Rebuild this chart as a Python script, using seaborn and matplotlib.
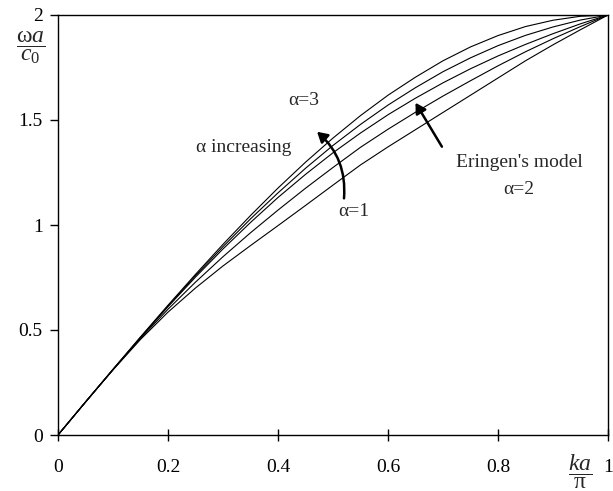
import numpy as np
import pandas as pd
import matplotlib
matplotlib.use("Agg")
import matplotlib.pyplot as plt
from matplotlib.patches import FancyArrowPatch
import seaborn as sns

# Normalised wavenumber ka/pi
ka_pi = [0.00, 0.05, 0.10, 0.15, 0.20, 0.25, 0.30, 0.35, 0.40, 0.45, 0.50,
         0.55, 0.60, 0.65, 0.70, 0.75, 0.80, 0.85, 0.90, 0.95, 1.00]

# Normalised frequency omega*a/c0 for each alpha
freq_a30 = [0, 0.157, 0.313, 0.467, 0.618, 0.765, 0.908, 1.045, 1.176, 1.299, 1.414,
            1.521, 1.618, 1.704, 1.782, 1.848, 1.902, 1.945, 1.975, 1.994, 2.0]
freq_a25 = [0, 0.157, 0.312, 0.465, 0.614, 0.759, 0.897, 1.029, 1.153, 1.270, 1.379,
            1.479, 1.571, 1.654, 1.730, 1.796, 1.854, 1.903, 1.943, 1.976, 2.0]
freq_a20 = [0, 0.157, 0.312, 0.464, 0.611, 0.752, 0.886, 1.012, 1.131, 1.241, 1.344,
            1.438, 1.525, 1.604, 1.677, 1.744, 1.805, 1.860, 1.911, 1.958, 2.0]
freq_a15 = [0, 0.157, 0.311, 0.460, 0.599, 0.728, 0.849, 0.963, 1.071, 1.175, 1.274,
            1.370, 1.456, 1.537, 1.614, 1.687, 1.758, 1.825, 1.887, 1.945, 2.0]
freq_a10 = [0, 0.157, 0.310, 0.455, 0.585, 0.700, 0.805, 0.902, 0.997, 1.093, 1.190,
            1.286, 1.372, 1.454, 1.536, 1.618, 1.700, 1.782, 1.858, 1.930, 2.0]

alphas = ["3", "2.5", "2", "1.5", "1"]
series = [freq_a30, freq_a25, freq_a20, freq_a15, freq_a10]

x_ticks = [0, 0.2, 0.4, 0.6, 0.8, 1]
x_tick_labels = ["0", "0.2", "0.4", "0.6", "0.8", "1"]
y_ticks = [0, 0.5, 1, 1.5, 2]
y_tick_labels = ["0", "0.5", "1", "1.5", "2"]

df = pd.concat(
    [pd.DataFrame({"ka_pi": ka_pi, "freq": s, "alpha": a}) for a, s in zip(alphas, series)],
    ignore_index=True,
)

sns.set_theme(style="ticks")
plt.rcParams["font.family"] = ["Liberation Serif", "DejaVu Serif"]
plt.rcParams["mathtext.fontset"] = "custom"
plt.rcParams["mathtext.rm"] = "Liberation Serif"
plt.rcParams["mathtext.it"] = "Liberation Serif:italic"

fig = plt.figure(figsize=(6.13, 4.91), dpi=100)
ax = fig.add_axes([58 / 613, 56 / 491, 550 / 613, 420 / 491])

sns.lineplot(data=df, x="ka_pi", y="freq", hue="alpha", units="alpha", estimator=None,
             palette=["black"] * len(alphas), linewidth=0.8, legend=False, ax=ax)

ax.set_xlim(0, 1)
ax.set_ylim(0, 2)
ax.set_xticks(x_ticks)
ax.set_xticklabels(x_tick_labels)
ax.set_yticks(y_ticks)
ax.set_yticklabels(y_tick_labels)
ax.set_xlabel("")
ax.set_ylabel("")
for sp in ax.spines.values():
    sp.set_linewidth(1.0)
    sp.set_color("black")
ax.tick_params(axis="x", direction="inout", length=8, width=1.0, pad=13,
               labelsize=14, colors="black")
ax.tick_params(axis="y", direction="out", length=6, width=1.0, pad=5,
               labelsize=14, colors="black")

# Axis titles as fractions
fig.text(31 / 613, 1 - 47 / 491, r"$\dfrac{\mathrm{\omega} a}{c_0}$", fontsize=17,
         ha="center", va="center")
fig.text(580 / 613, 1 - 472 / 491, r"$\dfrac{ka}{\mathrm{\pi}}$", fontsize=17,
         ha="center", va="center")

# Annotations
ax.text(0.447, 1.595, "α=3", fontsize=14, ha="center", va="center")
ax.text(0.25, 1.367, "α increasing", fontsize=14, ha="left", va="center")
ax.text(0.537, 1.062, "α=1", fontsize=14, ha="center", va="center")
ax.text(0.838, 1.298, "Eringen's model", fontsize=14, ha="center", va="center")
ax.text(0.838, 1.169, "α=2", fontsize=14, ha="center", va="center")

ax.add_patch(FancyArrowPatch((0.520, 1.127), (0.471, 1.444),
                             connectionstyle="arc3,rad=0.25",
                             arrowstyle="-|>,head_length=6,head_width=3.5",
                             color="black", linewidth=1.8, shrinkA=0, shrinkB=0))
ax.add_patch(FancyArrowPatch((0.698, 1.373), (0.650, 1.582),
                             arrowstyle="-|>,head_length=6,head_width=3.5",
                             color="black", linewidth=1.8, shrinkA=0, shrinkB=0))

fig.savefig("out.png", dpi=100)
